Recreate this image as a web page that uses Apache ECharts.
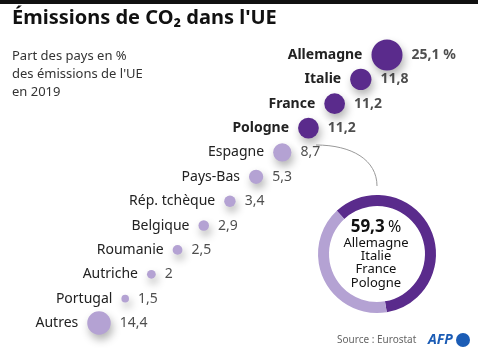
<!DOCTYPE html>
<html><head><meta charset="utf-8">
<script src="https://cdn.jsdelivr.net/npm/echarts@6/dist/echarts.min.js"></script>
<style>html,body{margin:0;padding:0;background:#fff}#c{width:480px;height:356px}</style>
</head><body><div id="c"></div>
<script>
const countries = ['Allemagne','Italie','France','Pologne','Espagne','Pays-Bas','Rép. tchèque','Belgique','Roumanie','Autriche','Portugal','Autres'];
const shares = [25.1, 11.8, 11.2, 11.2, 8.7, 5.3, 3.4, 2.9, 2.5, 2, 1.5, 14.4];
const topCount = 4;
const donutValues = [59.3, 40.7];
const donutLabel = '59,3';
const donutNames = ['Allemagne','Italie','France','Pologne'];

const DARK = '#5a2b8c', LIGHT = '#b4a2d3';
const FONT = 'Noto Sans';
const fmt = (v, i) => String(v).replace('.', ',') + (i === 0 ? ' %' : '');

const chart = echarts.init(document.getElementById('c'));
const pts = countries.map((c, i) => ({
  value: [c, c, shares[i]],
  itemStyle: { color: i < topCount ? DARK : LIGHT },
  label: { fontWeight: i < topCount ? 'bold' : 'normal' }
}));
chart.setOption({
  animation: false,
  grid: { left: 99, right: 93, top: 55, bottom: 33 },
  xAxis: { type: 'category', data: countries, inverse: true, boundaryGap: false, show: false },
  yAxis: { type: 'category', data: countries, inverse: true, boundaryGap: false, show: false },
  series: [
    {
      type: 'scatter', silent: true,
      symbolSize: v => 6.2 * Math.sqrt(v[2]),
      itemStyle: { opacity: 1, shadowBlur: 8, shadowColor: 'rgba(0,0,0,0.3)', shadowOffsetX: 2, shadowOffsetY: 5 },
      data: pts,
      label: { show: true, position: 'left', distance: 9, fontFamily: FONT, fontSize: 14, color: '#222',
        formatter: p => countries[p.dataIndex] }
    },
    {
      type: 'scatter', silent: true,
      symbolSize: v => 6.2 * Math.sqrt(v[2]),
      itemStyle: { color: 'rgba(0,0,0,0)' },
      data: pts.map(p => ({ value: p.value, label: p.label })),
      label: { show: true, position: 'right', distance: 9, fontFamily: FONT, fontSize: 14, color: '#222',
        formatter: p => fmt(shares[p.dataIndex], p.dataIndex) }
    },
    {
      type: 'pie', silent: true, center: [377, 254], radius: [48, 59], startAngle: 133, clockwise: true,
      label: { show: false }, labelLine: { show: false },
      data: [
        { value: donutValues[0], itemStyle: { color: DARK } },
        { value: donutValues[1], itemStyle: { color: LIGHT } }
      ]
    }
  ],
  graphic: [
    { type: 'rect', z: 100, shape: { x: 0, y: 0, width: 478, height: 4 }, style: { fill: '#111' } },
    { type: 'text', left: 12, top: 8, style: { text: 'Émissions de CO₂ dans l\'UE', font: 'bold 20px "Noto Sans"', fill: '#111' } },
    { type: 'text', left: 12, top: 47, style: { text: 'Part des pays en %\ndes émissions de l\'UE\nen 2019', font: '13px "Noto Sans"', lineHeight: 18, fill: '#333' } },
    { type: 'bezierCurve', shape: { x1: 316, y1: 145, cpx1: 352, cpy1: 145, cpx2: 377, cpy2: 160, x2: 377, y2: 186 }, style: { stroke: '#999', lineWidth: 1, fill: null } },
    { type: 'text', x: 376, y: 227, style: { text: '{b|' + donutLabel + '} {n|%}', align: 'center', verticalAlign: 'middle',
        rich: { b: { font: 'bold 17px "Noto Sans"', fill: '#111' }, n: { font: '16px "Noto Sans"', fill: '#111' } } } },
    { type: 'text', x: 376, y: 263, style: { text: donutNames.join('\n'), align: 'center', verticalAlign: 'middle', font: '13px "Noto Sans"', lineHeight: 13.4, fill: '#111' } },
    { type: 'text', x: 337, y: 340, style: { text: 'Source : Eurostat', verticalAlign: 'middle', font: '10px "Noto Sans"', fill: '#666' } },
    { type: 'text', x: 428, y: 340, style: { text: 'AFP', verticalAlign: 'middle', font: 'italic bold 14px "Noto Sans"', fill: '#1b5cb5' } },
    { type: 'circle', shape: { cx: 463, cy: 340, r: 7 }, style: { fill: '#1b5cb5' } }
  ]
});
</script></body></html>
